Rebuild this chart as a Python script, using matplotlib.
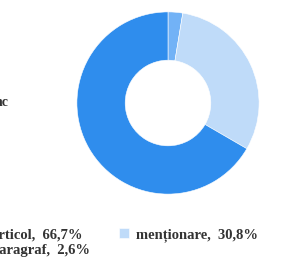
import matplotlib.pyplot as plt

# datos del gráfico
etiquetas = ['articol', 'paragraf', 'menționare']
valores = [66.7, 2.6, 30.8]
colores = ['#2f8ded', '#72b2f6', '#bfdbf9']
textos = ['articol,  66,7%', 'paragraf,  2,6%', 'menționare,  30,8%']

plt.rcParams['font.family'] = ['Liberation Serif', 'DejaVu Serif']

fig = plt.figure(figsize=(2.81, 2.61), dpi=100)
ax = fig.add_axes([(168 - 92) / 281, 1 - (103 + 92) / 261, 184 / 281, 184 / 261])

# orden horario desde arriba: paragraf, menționare, articol
orden = [1, 2, 0]
cunas, _ = ax.pie([valores[i] for i in orden], colors=[colores[i] for i in orden],
                  startangle=90, counterclock=False,
                  wedgeprops=dict(width=0.53, edgecolor='white', linewidth=0.4))
ax.set_xlim(-1.01, 1.01)
ax.set_ylim(-1.01, 1.01)
ax.set_aspect('equal')
ax.axis('off')

# leyenda recortada a la izquierda
mapa = dict(zip(orden, cunas))
handles = [mapa[0], mapa[1], mapa[2]]
leg = fig.legend(handles, textos, ncol=2, loc='upper left',
                 bbox_to_anchor=(-40 / 281, 1 - 215 / 261), frameon=False,
                 handlelength=0.7, handleheight=0.7, handletextpad=0.5,
                 columnspacing=2.0, labelspacing=0.2,
                 prop=dict(size=10.5, weight='bold'))
for t in leg.get_texts():
    t.set_color('#333333')

# texto cortado a la izquierda
fig.text(-5 / 281, 1 - 103 / 261, 'nc', fontsize=10, fontweight='bold',
         color='#333333', va='center')

fig.savefig('out.png', dpi=100)
